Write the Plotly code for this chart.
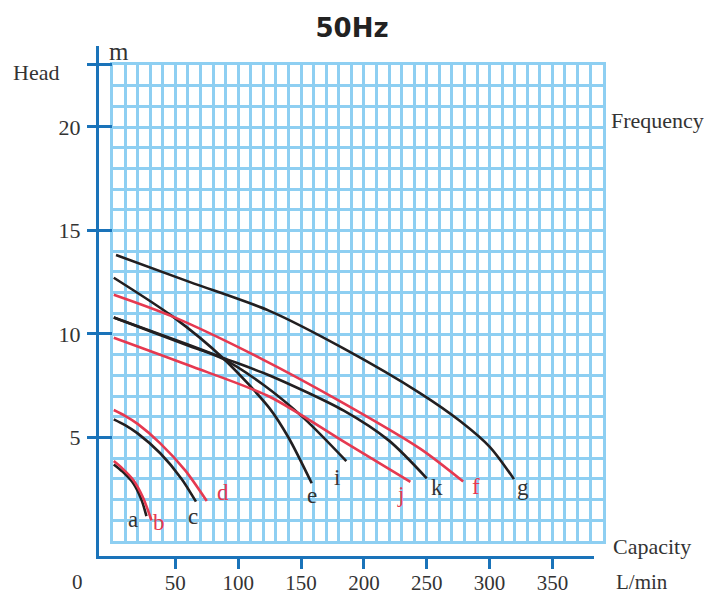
import plotly.graph_objects as go

OFF = 8                      # default page margin of the html body
W, H = 712 - OFF, 597 - OFF  # figure size so the page fits the window

# ---------------- data ----------------
x_ticks = [50, 100, 150, 200, 250, 300, 350]
y_ticks = [5, 10, 15, 20, 23]
y_tick_text = ["5", "10", "15", "20", ""]

a_q = [1, 8, 16.5, 23, 27]
a_h = [3.7, 3.35, 2.79, 2.0, 1.2]
b_q = [1, 8, 16.5, 24, 31]
b_h = [3.86, 3.5, 2.95, 2.14, 1.0]
c_q = [1, 10, 20, 38, 55, 66.4]
c_h = [5.88, 5.6, 5.2, 4.24, 3.0, 1.9]
d_q = [1, 10, 20, 38, 58, 75]
d_h = [6.33, 6.05, 5.66, 4.72, 3.4, 1.93]
e_q = [1, 48, 88, 125, 140, 158.5]
e_h = [12.72, 10.84, 8.83, 6.41, 5.0, 2.79]
i_q = [1, 60, 88, 120, 152, 186]
i_h = [10.8, 9.45, 8.8, 7.55, 5.95, 3.86]
j_q = [1, 60, 125, 184, 237]
j_h = [9.82, 8.5, 6.97, 4.8, 2.86]
k_q = [1, 60, 88, 125, 184, 220, 250]
k_h = [10.8, 9.5, 8.85, 8.0, 6.3, 4.85, 3.03]
f_q = [1, 48, 117, 184, 245, 279]
f_h = [11.9, 10.84, 8.85, 6.65, 4.45, 2.87]
g_q = [2.8, 61.7, 125.3, 183.4, 244.6, 276.5, 300.3, 319.4]
g_h = [13.82, 12.51, 11.11, 9.32, 7.15, 5.8, 4.54, 2.99]

curve_names = ["a", "b", "c", "d", "e", "i", "j", "k", "f", "g"]
curve_q = [a_q, b_q, c_q, d_q, e_q, i_q, j_q, k_q, f_q, g_q]
curve_h = [a_h, b_h, c_h, d_h, e_h, i_h, j_h, k_h, f_h, g_h]

# ---------------- styles ----------------
BLACK = "#231f20"
RED = "#e63950"
GRID = "#8ecff2"
AX = "#1a73b9"
TXT = "#333333"
FONT = "Liberation Serif"

curve_color = {"a": BLACK, "b": RED, "c": BLACK, "d": RED, "e": BLACK,
               "i": BLACK, "j": RED, "k": BLACK, "f": RED, "g": BLACK}
# label offsets (pixels) from curve end point
label_shift = {"a": (-13, -3), "b": (8, -2), "c": (-3, -15), "d": (16, 9),
               "e": (0, -12), "i": (-9, -16), "j": (-10, -13), "k": (10, -9),
               "f": (13, -5), "g": (9, -8)}


def px(x):
    return (x - OFF) / W


def py(y):
    return 1 - (y - OFF) / H


fig = go.Figure()

for name, q, h in zip(curve_names, curve_q, curve_h):
    fig.add_trace(go.Scatter(
        x=q, y=h, mode="lines",
        line=dict(color=curve_color[name], width=2.6, shape="spline", smoothing=0.8),
        showlegend=False, hoverinfo="skip", xaxis="x", yaxis="y"))

# carriers for the offset axis frame
fig.add_trace(go.Scatter(x=[None], y=[None], xaxis="x2", yaxis="y2", showlegend=False, hoverinfo="skip"))
fig.add_trace(go.Scatter(x=[None], y=[None], xaxis="x2", yaxis="y3", showlegend=False, hoverinfo="skip"))

annotations = []
for name, q, h in zip(curve_names, curve_q, curve_h):
    dx, dy = label_shift[name]
    annotations.append(dict(
        x=q[-1], y=h[-1], xref="x", yref="y", text=name, showarrow=False,
        xshift=dx, yshift=dy, xanchor="center", yanchor="middle",
        font=dict(family=FONT, size=23, color=RED if curve_color[name] == RED else TXT)))

text_font = dict(family=FONT, size=22, color=TXT)
bottom_font = dict(family=FONT, size=21, color=TXT)
annotations += [
    dict(x=px(11), y=py(72), xref="paper", yref="paper", text="Head", showarrow=False,
         xanchor="left", yanchor="middle", font=text_font),
    dict(x=px(107), y=py(51), xref="paper", yref="paper", text="m", showarrow=False,
         xanchor="left", yanchor="middle", font=dict(family=FONT, size=25, color=TXT)),
    dict(x=px(609), y=py(120), xref="paper", yref="paper", text="Frequency", showarrow=False,
         xanchor="left", yanchor="middle", font=text_font),
    dict(x=px(611), y=py(546), xref="paper", yref="paper", text="Capacity", showarrow=False,
         xanchor="left", yanchor="middle", font=text_font),
    dict(x=px(614), y=py(582), xref="paper", yref="paper", text="L/min", showarrow=False,
         xanchor="left", yanchor="middle", font=bottom_font),
    dict(x=px(77), y=py(582), xref="paper", yref="paper", text="0", showarrow=False,
         xanchor="center", yanchor="middle", font=bottom_font),
]

fig.update_layout(
    width=W, height=H, autosize=False,
    margin=dict(l=0, r=0, t=0, b=0),
    paper_bgcolor="white", plot_bgcolor="rgba(0,0,0,0)",
    title=dict(text="50Hz", x=px(352), y=py(28), xanchor="center", yanchor="middle",
               xref="paper", yref="paper",
               font=dict(family="DejaVu Sans", size=26, weight="bold", color="#222222")),
    xaxis=dict(domain=[px(112.5), px(602.7)], range=[0, 390], tick0=0, dtick=10,
               showgrid=True, gridcolor=GRID, gridwidth=3, zeroline=False,
               showline=True, mirror=True, linecolor=GRID, linewidth=3,
               showticklabels=False, ticks="", anchor="y", fixedrange=True),
    yaxis=dict(domain=[py(541), py(65)], range=[0, 23], tick0=0, dtick=1,
               showgrid=True, gridcolor=GRID, gridwidth=3, zeroline=False,
               showline=True, mirror=True, linecolor=GRID, linewidth=3,
               showticklabels=False, ticks="", anchor="x", fixedrange=True),
    xaxis2=dict(domain=[px(99), px(594)], range=[-10.74, 383.05], anchor="y2",
                showgrid=False, zeroline=False, showline=True, linecolor=AX, linewidth=3,
                ticks="outside", ticklen=10, tickwidth=3, tickcolor=AX,
                tickvals=x_ticks, ticktext=[str(v) for v in x_ticks],
                tickfont=bottom_font, ticklabelstandoff=-4, automargin=False, fixedrange=True),
    yaxis2=dict(domain=[py(556), py(46)], range=[-0.725, 23.91], anchor="x2",
                showgrid=False, zeroline=False, showline=True, linecolor=AX, linewidth=3,
                ticks="outside", ticklen=9, tickwidth=3, tickcolor=AX,
                tickvals=y_ticks, ticktext=y_tick_text,
                tickfont=text_font, ticklabelstandoff=2, automargin=False, fixedrange=True),
    yaxis3=dict(overlaying="y2", anchor="x2", range=[-0.725, 23.91],
                showgrid=False, zeroline=False, showline=False,
                ticks="inside", ticklen=13, tickwidth=3, tickcolor=AX,
                tickvals=y_ticks, showticklabels=False, fixedrange=True),
    annotations=annotations,
)

fig.write_html("out.html")
